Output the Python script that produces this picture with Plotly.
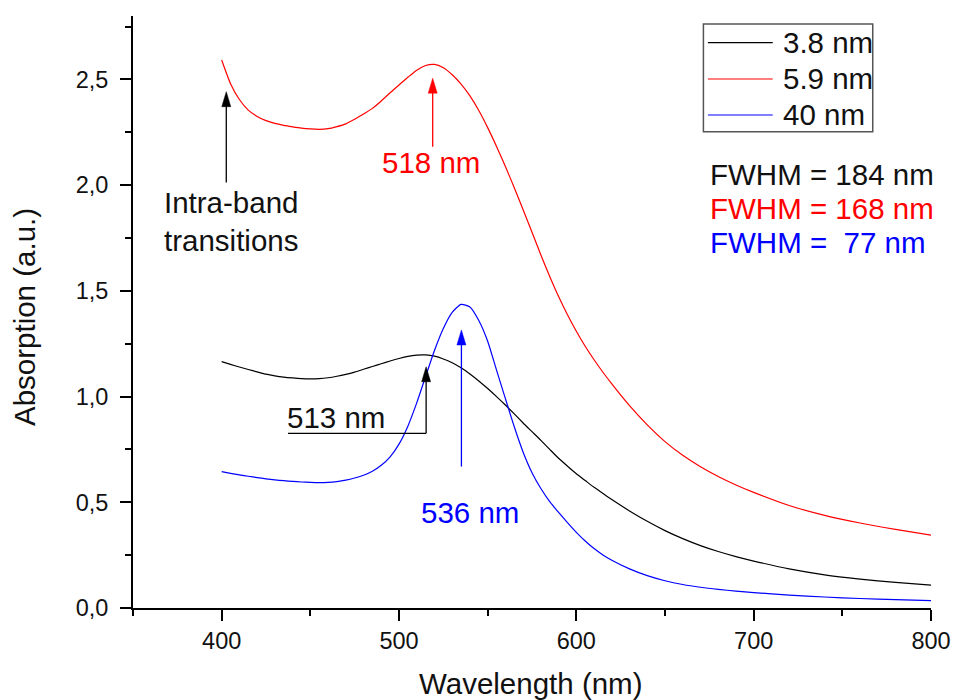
import plotly.graph_objects as go

# Wavelength grid (nm) shared by the three spectra
wavelength = [400, 405, 410, 415, 420, 425, 430, 435, 440, 445, 450, 455, 460, 465, 470,
              475, 480, 485, 490, 495, 500, 505, 510, 515, 520, 525, 530, 535, 540, 545,
              550, 555, 560, 565, 570, 575, 580, 585, 590, 595, 600, 605, 610, 615, 620,
              630, 640, 650, 660, 670, 680, 690, 700, 720, 740, 760, 780, 800]

# Absorption (a.u.) for each particle size
abs_3_8nm = [1.165, 1.152, 1.140, 1.128, 1.117, 1.106, 1.098, 1.092, 1.088, 1.085, 1.084,
             1.085, 1.089, 1.096, 1.105, 1.116, 1.129, 1.142, 1.155, 1.168, 1.180, 1.190,
             1.196, 1.197, 1.191, 1.178, 1.160, 1.136, 1.107, 1.074, 1.038, 1.000, 0.960,
             0.918, 0.875, 0.834, 0.793, 0.750, 0.708, 0.671, 0.635, 0.603, 0.571, 0.542,
             0.513, 0.459, 0.410, 0.366, 0.328, 0.295, 0.267, 0.243, 0.222, 0.185, 0.157,
             0.137, 0.121, 0.108]
abs_5_9nm = [2.592, 2.480, 2.405, 2.355, 2.325, 2.305, 2.292, 2.283, 2.276, 2.270, 2.266,
             2.264, 2.267, 2.277, 2.290, 2.312, 2.336, 2.363, 2.398, 2.437, 2.474, 2.510,
             2.544, 2.566, 2.571, 2.555, 2.522, 2.478, 2.422, 2.353, 2.272, 2.183, 2.088,
             1.988, 1.884, 1.777, 1.670, 1.568, 1.473, 1.387, 1.309, 1.238, 1.174, 1.115,
             1.060, 0.957, 0.866, 0.787, 0.722, 0.668, 0.622, 0.582, 0.547, 0.485, 0.438,
             0.402, 0.372, 0.345]
abs_40nm = [0.645, 0.637, 0.630, 0.623, 0.617, 0.611, 0.606, 0.602, 0.599, 0.596, 0.594,
            0.593, 0.594, 0.598, 0.605, 0.615, 0.628, 0.647, 0.675, 0.715, 0.775, 0.860,
            0.970, 1.095, 1.218, 1.322, 1.398, 1.436, 1.424, 1.360, 1.262, 1.125, 0.990,
            0.857, 0.737, 0.640, 0.565, 0.503, 0.452, 0.404, 0.358, 0.317, 0.281, 0.251,
            0.226, 0.185, 0.153, 0.129, 0.111, 0.098, 0.088, 0.080, 0.073, 0.061, 0.052,
            0.045, 0.040, 0.035]

series_names = ["3.8 nm", "5.9 nm", "40 nm"]
series_colors = ["#000000", "#ff0000", "#0000ff"]
fwhm_labels = ["FWHM = 184 nm", "FWHM = 168 nm", "FWHM = \u00a077 nm"]

# Peak positions marked with arrows (nm)
peak_black = 513
peak_red = 518
peak_blue = 536

FONT = "Liberation Sans, Arial, sans-serif"
BIG = 29.5

fig = go.Figure()
for name, ys, col in zip(series_names, [abs_3_8nm, abs_5_9nm, abs_40nm], series_colors):
    fig.add_trace(go.Scatter(x=wavelength, y=ys, mode="lines", name=name,
                             line=dict(color=col, width=1.2, shape="spline", smoothing=0.6),
                             showlegend=False))

shapes = []
annotations = []


def arrow(x, y_tail, y_tip, color):
    # shaft in data coordinates plus a narrow filled head anchored at the tip
    shapes.append(dict(type="line", xref="x", yref="y", x0=x, x1=x, y0=y_tail, y1=y_tip - 0.03,
                       line=dict(color=color, width=1.3)))
    shapes.append(dict(type="path", xref="x", yref="y", xsizemode="pixel", ysizemode="pixel",
                       xanchor=x, yanchor=y_tip, path="M-4.5,-15 L4.5,-15 L0,0 Z",
                       fillcolor=color, line=dict(color=color, width=0.5)))


def label(x, y, text, color, size=BIG):
    annotations.append(dict(x=x, y=y, xref="x", yref="y", text=text, showarrow=False,
                            font=dict(family=FONT, size=size, color=color),
                            xanchor="center", yanchor="middle"))


# Intra-band transitions
arrow(402.6, 2.012, 2.442, "#000000")
label(405, 1.83, "Intra-band<br>transitions", "#111111")

# 5.9 nm peak
arrow(peak_red + 1, 2.182, 2.506, "#ff0000")
label(peak_red + 0.3, 2.105, f"{peak_red} nm", "#ff0000")

# 3.8 nm peak with elbow leader
shapes.append(dict(type="line", xref="x", yref="y", x0=437.4, x1=515.3, y0=0.826, y1=0.826,
                   line=dict(color="#000000", width=1.3)))
arrow(515.3, 0.826, 1.141, "#000000")
label(464.5, 0.902, f"{peak_black} nm", "#111111")

# 40 nm peak
arrow(peak_blue - 0.8, 0.669, 1.315, "#0000ff")
label(540, 0.454, f"{peak_blue} nm", "#0000ff")

# Legend box drawn in paper coordinates
shapes.append(dict(type="rect", xref="paper", yref="paper", x0=0.7148, x1=0.927,
                   y0=0.8046, y1=0.9865, line=dict(color="#555555", width=1.5)))
legend_y = [0.9549, 0.8936, 0.8328]
for name, col, ly in zip(series_names, series_colors, legend_y):
    shapes.append(dict(type="line", xref="paper", yref="paper", x0=0.7204, x1=0.8017,
                       y0=ly, y1=ly, line=dict(color=col, width=1.2)))
    annotations.append(dict(x=0.8118, y=ly, xref="paper", yref="paper", text=name,
                            showarrow=False, xanchor="left", yanchor="middle",
                            font=dict(family=FONT, size=BIG, color="#111111")))

fwhm_y = [0.7331, 0.6740, 0.6166]
for txt, col, fy in zip(fwhm_labels, ["#111111", "#ff0000", "#0000ff"], fwhm_y):
    annotations.append(dict(x=0.7204, y=fy, xref="paper", yref="paper", text=txt,
                            showarrow=False, xanchor="left", yanchor="middle",
                            font=dict(family=FONT, size=BIG, color=col)))

# Axis titles
annotations.append(dict(x=0.4987, y=-0.1267, xref="paper", yref="paper", text="Wavelength (nm)",
                        showarrow=False, xanchor="center", yanchor="middle",
                        font=dict(family=FONT, size=BIG, color="#111111")))
annotations.append(dict(x=-0.1353, y=0.4916, xref="paper", yref="paper", text="Absorption (a.u.)",
                        showarrow=False, xanchor="center", yanchor="middle", textangle=-90,
                        font=dict(family=FONT, size=BIG, color="#111111")))

axis_common = dict(showline=True, linecolor="#000000", linewidth=2, showgrid=False,
                   zeroline=False, ticks="outside", ticklen=11, tickwidth=2, automargin=False,
                   tickcolor="#000000", tickfont=dict(family=FONT, size=23.5, color="#111111"))

fig.update_xaxes(range=[350, 800], tickmode="array", tickvals=[400, 500, 600, 700, 800],
                 minor=dict(ticks="outside", ticklen=6, tickwidth=2, tickcolor="#000000",
                            dtick=50, tick0=350),
                 **axis_common)
fig.update_yaxes(range=[0, 2.8], tickmode="array", tickvals=[0, 0.5, 1.0, 1.5, 2.0, 2.5],
                 tickformat=".1f", ticklabelstandoff=7,
                 minor=dict(ticks="outside", ticklen=6, tickwidth=2, tickcolor="#000000",
                            dtick=0.25, tick0=0),
                 **axis_common)

fig.update_layout(width=954, height=700, margin=dict(l=133, r=23, t=16, b=92),
                  plot_bgcolor="white", paper_bgcolor="white", separators=",.",
                  shapes=shapes, annotations=annotations, showlegend=False,
                  font=dict(family=FONT))

fig.write_html("out.html")
